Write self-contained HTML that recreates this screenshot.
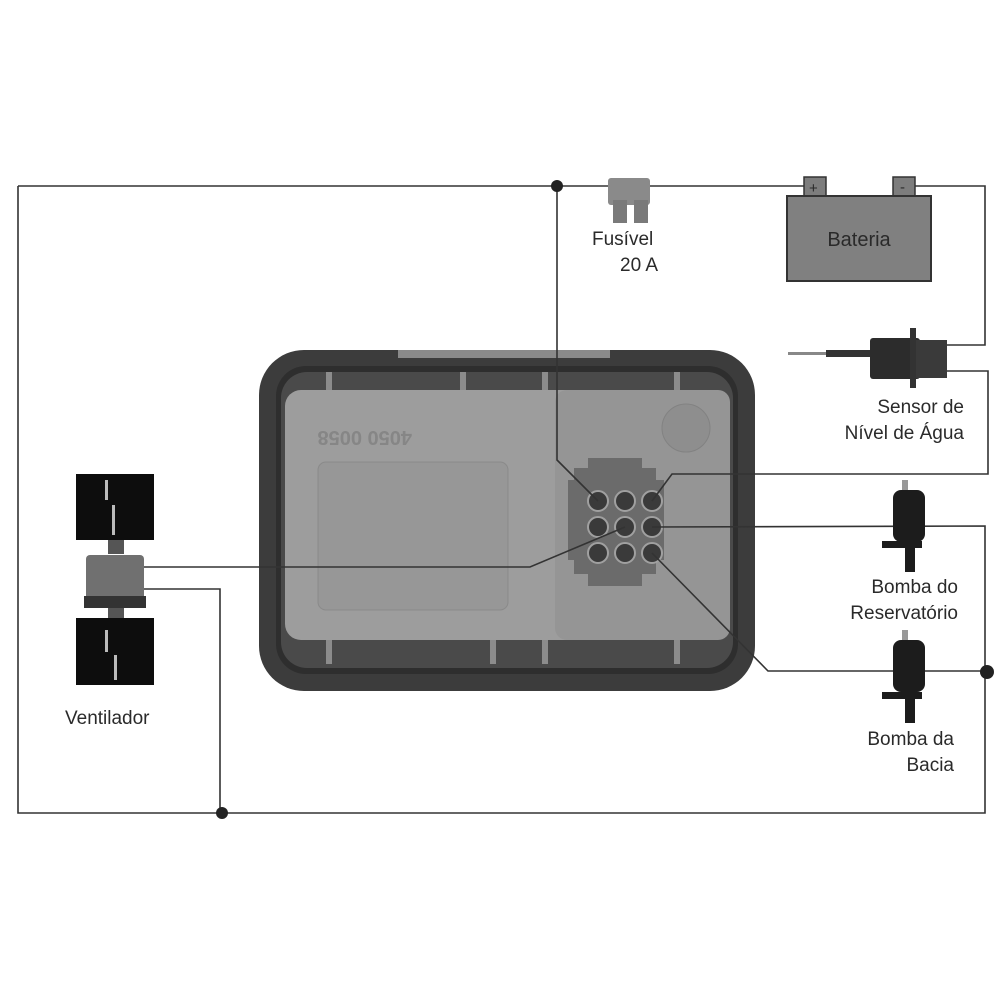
<!DOCTYPE html>
<html><head><meta charset="utf-8"><style>
html,body{margin:0;padding:0;background:#fff;width:1000px;height:1000px;overflow:hidden}
svg text{font-family:"Liberation Sans",Arial,sans-serif;fill:#2a2a2a}
</style></head><body>
<svg width="1000" height="1000" viewBox="0 0 1000 1000" xmlns="http://www.w3.org/2000/svg">
<!-- main box -->
<rect x="259" y="350" width="496" height="341" rx="45" fill="#3c3c3c"/>
<rect x="398" y="350" width="212" height="8" fill="#8a8a8a"/>
<rect x="276" y="366" width="462" height="308" rx="30" fill="#2e2e2e"/>
<rect x="281" y="372" width="452" height="296" rx="26" fill="#4a4a4a"/>
<g fill="#8c8c8c">
<rect x="326" y="372" width="6" height="20"/><rect x="460" y="372" width="6" height="20"/><rect x="542" y="372" width="6" height="20"/><rect x="674" y="372" width="6" height="20"/>
<rect x="326" y="640" width="6" height="24"/><rect x="490" y="640" width="6" height="24"/><rect x="542" y="640" width="6" height="24"/><rect x="674" y="640" width="6" height="24"/>
</g>
<rect x="285" y="390" width="445" height="250" rx="16" fill="#9d9d9d"/>
<rect x="555" y="390" width="175" height="250" rx="12" fill="#959595"/>
<rect x="318" y="462" width="190" height="148" rx="8" fill="#979797" stroke="#8a8a8a"/>
<text x="318" y="445" font-size="20" font-weight="bold" style="fill:#868686" transform="rotate(180 365 438)">4050 0058</text>
<circle cx="686" cy="428" r="24" fill="#8e8e8e" stroke="#828282"/>
<!-- connector -->
<path d="M588 458h54v10h14v12h8v80h-8v14h-14v12h-54v-12h-14v-14h-6v-80h6v-12h14z" fill="#6b6b6b"/>
<g fill="#3a3a3a" stroke="#a0a0a0" stroke-width="2">
<circle cx="598" cy="501" r="10"/><circle cx="625" cy="501" r="10"/><circle cx="652" cy="501" r="10"/>
<circle cx="598" cy="527" r="10"/><circle cx="625" cy="527" r="10"/><circle cx="652" cy="527" r="10"/>
<circle cx="598" cy="553" r="10"/><circle cx="625" cy="553" r="10"/><circle cx="652" cy="553" r="10"/>
</g>
<!-- wires -->
<g fill="none" stroke="#333" stroke-width="1.6">
<polyline points="18,186 18,813 985,813 985,526 652,527"/>
<line x1="18" y1="186" x2="815" y2="186"/>
<polyline points="904,186 985,186 985,345 945,345"/>
<polyline points="945,371 988,371 988,474 672,474 652,501"/>
<polyline points="557,186 557,460 598,501"/>
<polyline points="625,527 530,567 143,567"/>
<polyline points="652,553 768,671 987,671"/>
<polyline points="143,589 220,589 220,813"/>
</g>
<circle cx="557" cy="186" r="6" fill="#222"/>
<circle cx="222" cy="813" r="6" fill="#222"/>
<circle cx="987" cy="672" r="7" fill="#222"/>
<!-- fuse -->
<rect x="608" y="178" width="42" height="27" rx="3" fill="#8a8a8a"/>
<rect x="613" y="200" width="14" height="23" fill="#7a7a7a"/><rect x="634" y="200" width="14" height="23" fill="#7a7a7a"/>
<text x="592" y="245" font-size="19">Fusível</text>
<text x="620" y="271" font-size="19">20 A</text>
<!-- battery -->
<rect x="804" y="177" width="22" height="19" fill="#7d7d7d" stroke="#333" stroke-width="1.5"/>
<rect x="893" y="177" width="22" height="19" fill="#7d7d7d" stroke="#333" stroke-width="1.5"/>
<text x="809" y="193" font-size="15">+</text><text x="900" y="192" font-size="15">-</text>
<rect x="787" y="196" width="144" height="85" fill="#808080" stroke="#333" stroke-width="2"/>
<text x="859" y="246" font-size="20" text-anchor="middle">Bateria</text>
<!-- sensor -->
<rect x="788" y="352" width="40" height="3" fill="#888"/>
<rect x="826" y="350" width="46" height="7" fill="#333"/>
<rect x="870" y="338" width="50" height="41" rx="3" fill="#2c2c2c"/>
<rect x="910" y="328" width="6" height="60" fill="#333"/>
<rect x="916" y="340" width="31" height="38" fill="#3a3a3a"/>
<text x="964" y="413" font-size="19" text-anchor="end">Sensor de</text>
<text x="964" y="439" font-size="19" text-anchor="end">Nível de Água</text>
<!-- pumps -->
<g fill="#1c1c1c">
<rect x="902" y="480" width="6" height="12" fill="#999"/>
<rect x="893" y="490" width="32" height="52" rx="8"/>
<rect x="882" y="541" width="40" height="7"/><rect x="905" y="548" width="10" height="24"/>
<rect x="902" y="630" width="6" height="12" fill="#999"/>
<rect x="893" y="640" width="32" height="52" rx="8"/>
<rect x="882" y="692" width="40" height="7"/><rect x="905" y="699" width="10" height="24"/>
</g>
<text x="958" y="593" font-size="19" text-anchor="end">Bomba do</text>
<text x="958" y="619" font-size="19" text-anchor="end">Reservatório</text>
<text x="954" y="745" font-size="19" text-anchor="end">Bomba da</text>
<text x="954" y="771" font-size="19" text-anchor="end">Bacia</text>
<!-- ventilator -->
<rect x="76" y="474" width="78" height="66" fill="#0d0d0d"/>
<rect x="76" y="618" width="78" height="67" fill="#0d0d0d"/>
<g fill="#bbb"><rect x="105" y="480" width="3" height="20"/><rect x="112" y="505" width="3" height="30"/><rect x="105" y="630" width="3" height="22"/><rect x="114" y="655" width="3" height="25"/></g>
<rect x="108" y="540" width="16" height="14" fill="#555"/>
<rect x="108" y="606" width="16" height="12" fill="#555"/>
<rect x="86" y="555" width="58" height="52" rx="4" fill="#707070"/>
<rect x="84" y="596" width="62" height="12" fill="#333"/>
<text x="65" y="724" font-size="19">Ventilador</text>
</svg>
</body></html>
